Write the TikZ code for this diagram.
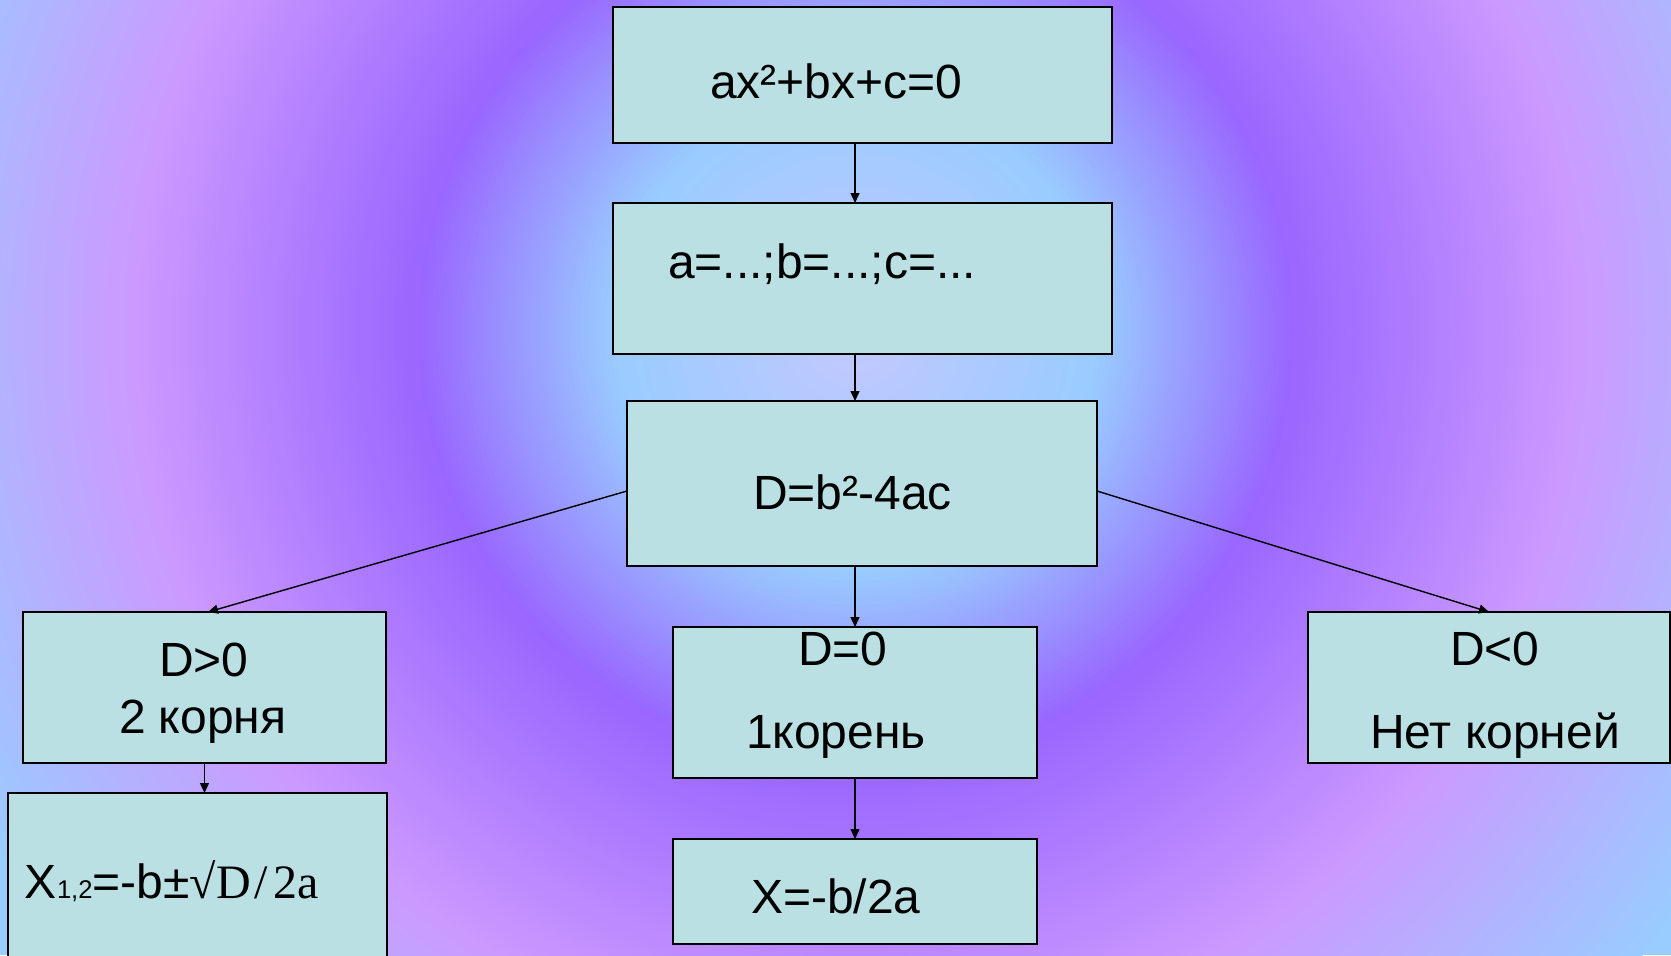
\documentclass[tikz,border=0pt]{standalone}
\usepackage{fontspec}
\setmainfont{Liberation Sans}
\newfontfamily\formulaserif{Liberation Serif}
\usetikzlibrary{arrows.meta}

% background ring colours
\definecolor{bgcore}{RGB}{196,200,255}
\definecolor{bgsky}{RGB}{153,204,255}
\definecolor{bgviolet}{RGB}{153,102,255}
\definecolor{bglilac}{RGB}{204,153,255}
\definecolor{bgedge}{RGB}{153,204,255}
\definecolor{boxfill}{RGB}{186,224,227}

\begin{document}
\begin{tikzpicture}[x=0.5pt,y=-0.5pt,
  box/.style={draw=black, line width=1pt, fill=boxfill, rectangle,
              inner sep=0pt, outer sep=0pt, anchor=north west},
  lbl/.style={anchor=base west, inner sep=0pt, outer sep=0pt, text=black,
              xshift=-1pt, font=\fontsize{24}{28}\selectfont},
  conn/.style={draw=black, line width=0.7pt,
               -{Triangle[length=5pt,width=4.5pt]}}]

\useasboundingbox (0,0) rectangle (1671,955);

% radial background: concentric rings around the centre
\coordinate (cen) at (856,330);
\begin{scope}
  \clip (0,0) rectangle (1671,955);
  \fill[bgedge] (0,0) rectangle (1671,955);
  \foreach \ra/\rb/\ca/\cb in {720/1005/bglilac/bgedge,
                               437/720/bgviolet/bglilac,
                               240/437/bgsky/bgviolet,
                               0/240/bgcore/bgsky}{
    \pgfmathtruncatemacro\nsteps{(\rb-\ra)/3}
    \foreach \k in {0,...,\nsteps}{
      \pgfmathsetmacro\rr{\rb-3*\k}
      \pgfmathtruncatemacro\pc{(\rr-\ra)/(\rb-\ra)*100}
      \fill[\cb!\pc!\ca] (cen) circle[radius=\rr];
    }
  }
\end{scope}

% boxes
\node[box, minimum width=249.5pt, minimum height=68pt]   (b1) at (613,7)   {};
\node[box, minimum width=249.5pt, minimum height=75.5pt] (b2) at (613,203) {};
\node[box, minimum width=235pt,   minimum height=82.5pt] (b3) at (627,401) {};
\node[box, minimum width=181.5pt, minimum height=75.5pt] (b4) at (23,612)  {};
\node[box, minimum width=189.5pt, minimum height=100pt]  (b5) at (8,793)   {};
\node[box, minimum width=182pt,   minimum height=75.5pt] (b6) at (673,627) {};
\node[box, minimum width=182pt,   minimum height=52.5pt] (b7) at (673,839) {};
\node[box, minimum width=181pt,   minimum height=75.5pt] (b8) at (1308,612) {};

% labels
\node[lbl] (t1)  at (712,98)  {ax²+bx+c=0};
\node[lbl] (t2)  at (670,278) {a=...;b=...;c=...};
\node[lbl] (t3)  at (755,509) {D=b²-4ac};
\node[lbl] (t4a) at (161,676) {D>0};
\node[lbl] (t4b) at (121,733) {2 корня};
\node[lbl] (t5)  at (27,898)
  {X{\fontsize{12.8}{14}\selectfont 1,2}=-b±{\formulaserif √D\kern2pt/\kern3pt2a}};
\node[lbl] (t6a) at (800,665) {D=0};
\node[lbl] (t6b) at (748,748) {1корень};
\node[lbl] (t7)  at (753,913) {X=-b/2a};
\node[lbl] (t8a) at (1452,665) {D<0};
\node[lbl] (t8b) at (1372,748) {Нет корней};

% connectors
\coordinate (spine) at (855,0);
\coordinate (fork) at (0,491);
\draw[conn] (b1.south -| spine) -- (b2.north -| spine);
\draw[conn] (b2.south -| spine) -- (b3.north -| spine);
\draw[conn] (b3.south -| spine) -- (b6.north -| spine);
\draw[conn] (b6.south) -- (b7.north);
\draw[conn] (b3.west |- fork) -- ([xshift=1.75pt]b4.north);
\draw[conn] (b3.east |- fork) -- (b8.north);
\draw[conn] (b4.south) -- (b5.north -| b4.south);
\end{tikzpicture}
\end{document}
